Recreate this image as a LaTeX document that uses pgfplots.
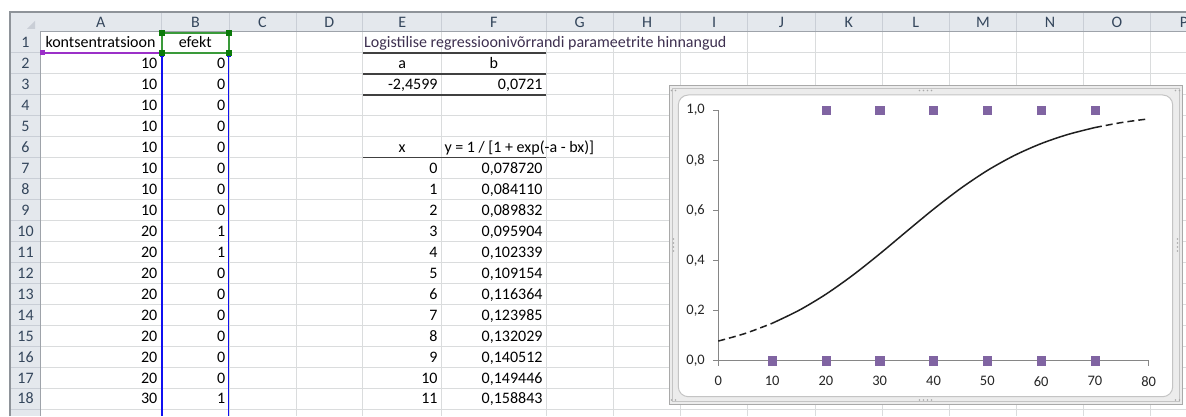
\documentclass[border=0pt]{standalone}
\usepackage{fontspec}
\setmainfont{Carlito}
\usepackage{pgfplots}
\pgfplotsset{compat=1.18}
\definecolor{hdrbg}{HTML}{E4E8ED}
\definecolor{hdrline}{HTML}{C9CED6}
\definecolor{hdrdark}{HTML}{9EA3AA}
\definecolor{hdrtext}{HTML}{34465C}
\definecolor{gridc}{HTML}{DADCDD}
\definecolor{mk}{HTML}{8064A2}
\definecolor{axgray}{HTML}{868686}
\definecolor{selpurple}{HTML}{9B30C8}
\definecolor{selgreen}{HTML}{3A9A3A}
\definecolor{selgreendk}{HTML}{0A7A0A}
\definecolor{selblue}{HTML}{1010F0}
\definecolor{titlec}{HTML}{3E3050}
\definecolor{bordc}{HTML}{404040}
\definecolor{framebg}{HTML}{ECECEC}
\definecolor{framedk}{HTML}{A9A9A9}
\definecolor{frameinner}{HTML}{C4C4C4}
\newcommand\cellfont{\fontsize{16}{18}\selectfont}
\begin{document}
\begin{tikzpicture}[x=1pt,y=1pt]
\useasboundingbox (0,0) rectangle (1186,416);
\begin{scope}[yshift=416pt,y=-1pt]
  \fill[white] (0,0) rectangle (1186,416);
  % grid
  \foreach \r in {1,...,18} \draw[gridc, line width=1pt] (40,{32+\r*20.95}) -- (1186,{32+\r*20.95});
  \foreach \c in {161.7,229,296,362.7,441.7,546,613.3,680.7,747.7,815,882.3,949.3,1016.7,1083.3,1150.7}
     \draw[gridc, line width=1pt] (\c,32) -- (\c,416);
  % headers
  \fill[hdrbg] (10,12) rectangle (1186,32);
  \fill[hdrbg] (10,12) rectangle (40,416);
  \foreach \c in {161.7,229,296,362.7,441.7,546,613.3,680.7,747.7,815,882.3,949.3,1016.7,1083.3,1150.7}
     \draw[hdrline, line width=1pt] (\c,13) -- (\c,32);
  \foreach \r in {1,...,18} \draw[hdrline, line width=1pt] (11,{32+\r*20.95}) -- (40,{32+\r*20.95});
  \draw[hdrdark, line width=1pt] (40,32) -- (1186,32);
  \draw[hdrdark, line width=1pt] (40,32) -- (40,416);
  \draw[hdrdark!90!black, line width=1.5pt] (10,416) -- (10,12) -- (1186,12);
  \fill[hdrline] (35,21) -- (35,29) -- (27,29) -- cycle;
  % column letters
  \foreach \x/\l in {100.85/A,195.35/B,262.5/C,329.35/D,402.2/E,493.85/F,579.65/G,647/H,714.2/I,781.35/J,848.65/K,915.8/L,983/M,1050/N,1117/O,1184/P}
     \node[anchor=base, inner sep=0pt, text=hdrtext, font=\cellfont] at (\x,27.5) {\l};
  \foreach \r in {1,...,18}
     \node[anchor=base, inner sep=0pt, text=hdrtext, font=\cellfont] at (25.5,{32+(\r-1)*20.95+15.8}) {\r};
  % cells
  \node[anchor=base, inner sep=0pt, font=\cellfont] at (100.5,47.8) {kontsentratsioon};
  \node[anchor=base, inner sep=0pt, font=\cellfont] at (195.3,47.8) {efekt};
  \foreach \r/\a/\b in {2/10/0,3/10/0,4/10/0,5/10/0,6/10/0,7/10/0,8/10/0,9/10/0,10/20/1,11/20/1,12/20/0,13/20/0,14/20/0,15/20/0,16/20/0,17/20/0,18/30/1}{
     \node[anchor=base east, inner sep=0pt, font=\cellfont] at (157.5,{32+(\r-1)*20.95+15.8}) {\a};
     \node[anchor=base east, inner sep=0pt, font=\cellfont] at (225.5,{32+(\r-1)*20.95+15.8}) {\b};
  }
  \node[anchor=base west, inner sep=0pt, font=\cellfont, text=titlec] at (364,47.8) {Logistilise regressioonivõrrandi parameetrite hinnangud};
  \node[anchor=base, inner sep=0pt, font=\cellfont] at (402.2,{32+20.95+15.8}) {a};
  \node[anchor=base, inner sep=0pt, font=\cellfont] at (493.85,{32+20.95+15.8}) {b};
  \node[anchor=base east, inner sep=0pt, font=\cellfont] at (437.7,{32+2*20.95+15.8}) {-2,4599};
  \node[anchor=base east, inner sep=0pt, font=\cellfont] at (542.7,{32+2*20.95+15.8}) {0,0721};
  \node[anchor=base, inner sep=0pt, font=\cellfont] at (402.2,{32+5*20.95+15.8}) {x};
  \node[anchor=base west, inner sep=0pt, font=\cellfont] at (444.3,{32+5*20.95+15.8}) {y = 1 / [1 + exp(-a - bx)]};
  \foreach \r/\x in {7/0,8/1,9/2,10/3,11/4,12/5,13/6,14/7,15/8,16/9,17/10,18/11}{
     \node[anchor=base east, inner sep=0pt, font=\cellfont] at (437.7,{32+(\r-1)*20.95+15.8}) {\x};
  }
  \foreach \r/\y in {7/{0,078720},8/{0,084110},9/{0,089832},10/{0,095904},11/{0,102339},12/{0,109154},13/{0,116364},14/{0,123985},15/{0,132029},16/{0,140512},17/{0,149446},18/{0,158843}}{
     \node[anchor=base east, inner sep=0pt, font=\cellfont] at (542.7,{32+(\r-1)*20.95+15.8}) {\y};
  }
  % borders E-F
  \draw[bordc, line width=1.5pt] (362.7,52.95) -- (546,52.95);
  \draw[bordc, line width=1.5pt] (362.7,73.9) -- (546,73.9);
  \draw[bordc, line width=1.5pt] (362.7,94.85) -- (546,94.85);
  \draw[bordc, line width=1.5pt] (362.7,157.7) -- (546,157.7);
  % selection highlights
  \draw[selblue, line width=1.5pt] (161.9,52.7) -- (161.9,416);
  \draw[selblue, line width=1.5pt] (228.7,52.7) -- (228.7,416);
  \fill[selblue] (159.9,53) rectangle (163.9,57);
  \fill[selblue] (226.7,53) rectangle (230.7,57);
  \draw[selpurple, line width=2pt] (41,52.7) -- (160,52.7);
  \fill[selpurple] (40,50.5) rectangle (45,55.5);
  \draw[selgreen, line width=2pt] (162,33.2) rectangle (228.6,52.7);
  \foreach \px/\py in {162/33.5,228.6/33.5,162/52.7,228.6/52.7}
     \fill[selgreendk] ({\px-3},{\py-3}) rectangle ({\px+3},{\py+3});
  % chart frame
  \fill[framebg] (669,86) rectangle (1182,404);
  \draw[framedk, line width=1pt] (669,86) rectangle (1182,404);
  \draw[frameinner, line width=1pt] (672,89) rectangle (1179,401);
  \filldraw[fill=white, draw=frameinner, line width=1pt, rounded corners=10pt] (678.3,95) rectangle (1172.7,396.7);
  \foreach \d in {-6,-2,2,6}{
     \fill[framedk] ({925.5+\d},90.5) circle (0.9);
     \fill[framedk] ({925.5+\d},400) circle (0.9);
     \fill[framedk] (673.5,{245+\d}) circle (0.9);
     \fill[framedk] (1177.5,{245+\d}) circle (0.9);
  }
  \foreach \d in {-2,2}{
     \fill[framedk] ({673.5+\d},90.5) circle (0.9);
     \fill[framedk] ({1177.5+\d},90.5) circle (0.9);
     \fill[framedk] ({673.5+\d},400) circle (0.9);
     \fill[framedk] ({1177.5+\d},400) circle (0.9);
  }
\end{scope}
\begin{axis}[
  at={(718.3pt,55.2pt)}, anchor=south west,
  scale only axis, width=430.4pt, height=250.8pt,
  xmin=0, xmax=80, ymin=0, ymax=1,
  clip=false,
  axis x line*=bottom, axis y line*=left,
  axis line style={draw=axgray, line width=1pt, -},
  tick style={draw=axgray, line width=1pt},
  major tick length=5pt, tick align=outside,
  xtick={0,10,20,30,40,50,60,70,80},
  ytick={0,0.2,0.4,0.6,0.8,1},
  /pgf/number format/assume math mode=true,
  tick label style={font=\fontsize{14.5}{16}\selectfont, text=black!85},
  x tick label style={yshift=-7pt},
  y tick label style={xshift=-5pt, /pgf/number format/.cd, fixed, fixed zerofill, precision=1, use comma},
]
\addplot[draw=black!88, line width=1.5pt, smooth, dash pattern=on 7pt off 4pt] coordinates {
  (0,0.07872) (5,0.10915) (10,0.14945)};
\addplot[draw=black!88, line width=1.5pt, smooth] coordinates {
  (10,0.14945) (15,0.20127) (20,0.26544) (25,0.34133) (30,0.42631) (35,0.51589)
  (40,0.60446) (45,0.68667) (50,0.75867) (55,0.81841) (60,0.86600) (65,0.90261) (70,0.93003)};
\addplot[draw=black!88, line width=1.5pt, smooth, dash pattern=on 7pt off 4pt] coordinates {
  (70,0.93003) (75,0.95015) (80,0.96471)};
\addplot[only marks, mark=square*, mark size=4.15pt, mark options={fill=mk, draw=mk}] coordinates {
  (10,0) (20,0) (30,0) (40,0) (50,0) (60,0) (70,0)
  (20,1) (30,1) (40,1) (50,1) (60,1) (70,1)};
\end{axis}
\end{tikzpicture}
\end{document}
